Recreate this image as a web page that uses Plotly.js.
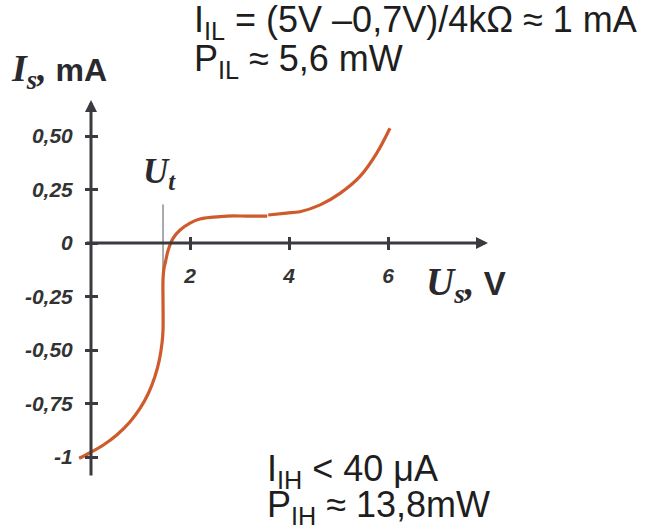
<!DOCTYPE html>
<html><head><meta charset="utf-8">
<script src="https://cdn.plot.ly/plotly-3.0.1.min.js"></script>
<style>html,body{margin:0;padding:0;background:#fff;}#chart{width:649px;height:530px;}</style>
</head><body><div id="chart"></div>
<script>
// ---- data (Us in V, Is in mA) ----
const curveLowUs  = [-0.24, -0.02, 0.25, 0.52, 0.79, 0.99, 1.16, 1.29, 1.38, 1.434, 1.455, 1.455, 1.455, 1.475, 1.50, 1.56, 1.66, 1.80, 2.00, 2.20, 2.47, 2.75, 3.15, 3.56];
const curveLowIs  = [-1.006, -0.980, -0.944, -0.897, -0.835, -0.773, -0.702, -0.625, -0.547, -0.469, -0.407, -0.27, -0.17, -0.117, -0.093, -0.033, 0.023, 0.061, 0.093, 0.112, 0.121, 0.126, 0.126, 0.126];
const curveHighUs = [3.58, 3.95, 4.22, 4.63, 5.03, 5.43, 5.77, 6.04];
const curveHighIs = [0.131, 0.140, 0.146, 0.178, 0.232, 0.310, 0.419, 0.536];
const thresholdUt = [1.455, 1.455];
const thresholdIs = [-0.15, 0.18];
const xTickVals = [2, 4, 6];
const xTickText = ['2', '4', '6'];
const yTickVals = [0.5, 0.25, 0, -0.25, -0.5, -0.75, -1];
const yTickText = ['0,50', '0,25', '0', '-0,25', '-0,50', '-0,75', '-1'];

// ---- geometry ----
const W = 649, H = 530;
const ox = 91, oy = 243, pxV = 49.5, pxMA = 214;
const xRange = [-ox / pxV, (W - ox) / pxV];
const yRange = [-(H - oy) / pxMA, oy / pxMA];
const P = (px, py) => ({x: px / W, y: 1 - py / H});
const axisCol = '#3a3a40';
const curveCol = '#cf5a2c';
const serif = 'Liberation Serif, Times New Roman, serif';
const sans = 'Liberation Sans, Arial, sans-serif';
const bi = s => '<b><i>' + s + '</i></b>';

const traces = [
  {x: thresholdUt, y: thresholdIs, mode: 'lines', line: {color: '#555', width: 1}, hoverinfo: 'skip'},
  {x: curveLowUs, y: curveLowIs, mode: 'lines', line: {color: curveCol, width: 3.2, shape: 'spline', smoothing: 1}, hoverinfo: 'skip'},
  {x: curveHighUs, y: curveHighIs, mode: 'lines', line: {color: curveCol, width: 3.2, shape: 'spline', smoothing: 1}, hoverinfo: 'skip'},
  {x: [], y: [], xaxis: 'x2', yaxis: 'y2', mode: 'lines', hoverinfo: 'skip'}
];

const tickFont = {family: sans, size: 21, color: '#333'};
const baseX = {range: xRange, domain: [0, 1], anchor: 'free', position: 1 - oy / H, showgrid: false, zeroline: false,
  showline: false, tickmode: 'array', tickvals: xTickVals, ticklen: 6, tickwidth: 3, tickcolor: axisCol, fixedrange: true};
const baseY = {range: yRange, domain: [0, 1], anchor: 'free', position: ox / W, showgrid: false, zeroline: false,
  showline: false, tickmode: 'array', tickvals: yTickVals, ticklen: 6, tickwidth: 3, tickcolor: axisCol, fixedrange: true};

const note = (px, py, text) => Object.assign(P(px, py), {xref: 'paper', yref: 'paper', xanchor: 'left', yanchor: 'top',
  showarrow: false, text: text, font: {family: sans, size: 36, color: '#1e1e1e'}});

const layout = {
  width: W, height: H, margin: {l: 0, r: 0, t: 0, b: 0}, showlegend: false,
  paper_bgcolor: '#fff', plot_bgcolor: '#fff',
  xaxis: Object.assign({}, baseX, {ticks: 'outside', ticktext: xTickText.map(bi), tickfont: tickFont, ticklabelstandoff: 8}),
  yaxis: Object.assign({}, baseY, {ticks: 'outside', ticktext: yTickText.map(bi), tickfont: tickFont, ticklabelstandoff: 8}),
  xaxis2: Object.assign({}, baseX, {overlaying: 'x', ticks: 'inside', showticklabels: false}),
  yaxis2: Object.assign({}, baseY, {overlaying: 'y', ticks: 'inside', showticklabels: false}),
  annotations: [
    // axis arrows
    {x: (488 - ox) / pxV, y: 0, ax: (85 - ox) / pxV, ay: 0, xref: 'x', yref: 'y', axref: 'x', ayref: 'y', text: '',
     showarrow: true, arrowhead: 2, arrowsize: 0.8, arrowwidth: 3, arrowcolor: axisCol, standoff: 0},
    {x: 0, y: (oy - 100) / pxMA, ax: 0, ay: -(477 - oy) / pxMA, xref: 'x', yref: 'y', axref: 'x', ayref: 'y', text: '',
     showarrow: true, arrowhead: 2, arrowsize: 0.8, arrowwidth: 3, arrowcolor: axisCol, standoff: 0},
    // axis titles
    Object.assign(P(9, 45), {xref: 'paper', yref: 'paper', xanchor: 'left', yanchor: 'top', showarrow: false,
      text: '<span style="font-family:' + serif + ';font-size:38px"><b><i>I<sub>s</sub>,</i></b></span><b> mA</b>',
      font: {family: sans, size: 32, color: '#2a2a2e'}}),
    Object.assign(P(141, 150), {xref: 'paper', yref: 'paper', xanchor: 'left', yanchor: 'top', showarrow: false,
      text: '<b><i>U<sub>t</sub></i></b>', font: {family: serif, size: 35, color: '#2a2a2e'}}),
    Object.assign(P(424, 258), {xref: 'paper', yref: 'paper', xanchor: 'left', yanchor: 'top', showarrow: false,
      text: '<span style="font-family:' + serif + ';font-size:39px"><b><i>U<sub>s</sub>,</i></b></span><b> V</b>',
      font: {family: sans, size: 33, color: '#2a2a2e'}}),
    // notes
    note(192, -3, 'I<sub>IL</sub> = (5V –0,7V)/4kΩ ≈ 1 mA'),
    note(192, 36, 'P<sub>IL</sub> ≈ 5,6 mW'),
    note(265, 446, 'I<sub>IH</sub> &lt; 40 μA'),
    note(265, 482, 'P<sub>IH</sub> ≈ 13,8mW')
  ]
};

Plotly.newPlot('chart', traces, layout, {staticPlot: true, displayModeBar: false});
</script></body></html>
